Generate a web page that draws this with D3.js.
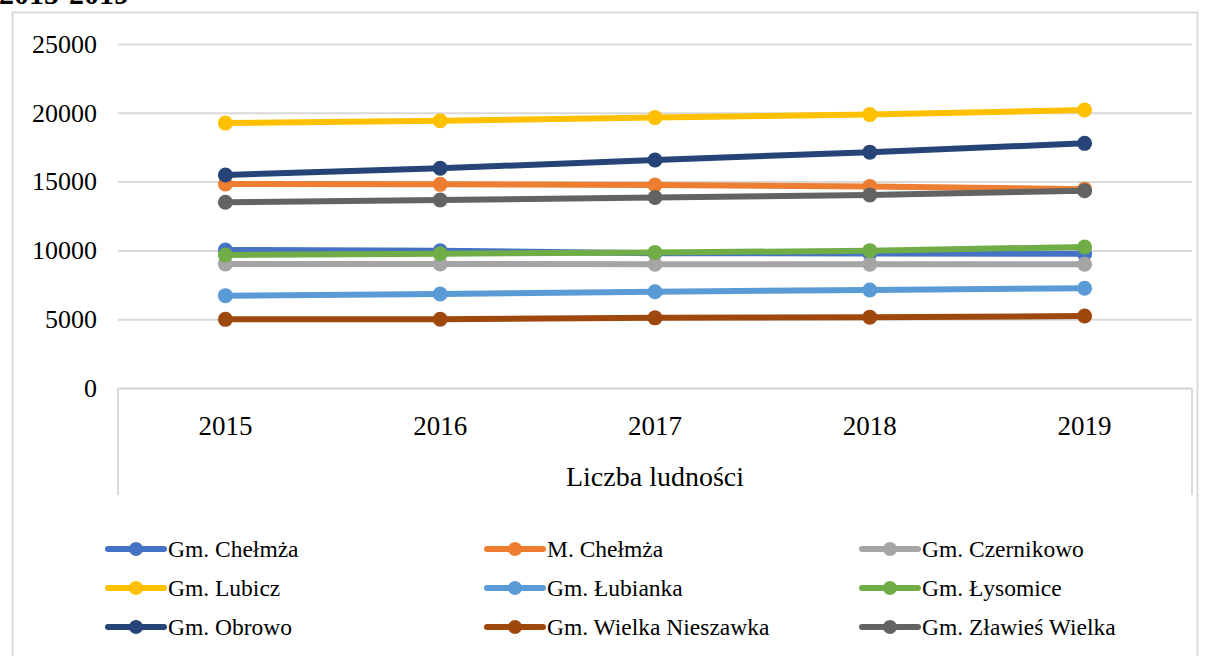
<!DOCTYPE html>
<html>
<head>
<meta charset="utf-8">
<script src="https://cdn.jsdelivr.net/npm/d3@7"></script>
<style>
  html, body { margin: 0; padding: 0; background: #fff; }
  svg { display: block; }
  text { font-family: "Liberation Serif", "Times New Roman", serif; fill: #000; }
</style>
</head>
<body>
<svg id="chart" width="1208" height="656"></svg>
<script>
const years = ["2015", "2016", "2017", "2018", "2019"];
const yTicks = [0, 5000, 10000, 15000, 20000, 25000];
const seriesNames = ["Gm. Chełmża", "M. Chełmża", "Gm. Czernikowo", "Gm. Lubicz", "Gm. Łubianka", "Gm. Łysomice", "Gm. Obrowo", "Gm. Wielka Nieszawka", "Gm. Zławieś Wielka"];
const seriesColors = ["#4472C4", "#ED7D31", "#A5A5A5", "#FFC000", "#5B9BD5", "#70AD47", "#264478", "#9E480E", "#636363"];
const gmChelmza = [10030, 9970, 9800, 9780, 9750];
const mChelmza = [14830, 14800, 14750, 14650, 14450];
const gmCzernikowo = [9020, 9010, 8990, 9000, 8990];
const gmLubicz = [19250, 19420, 19650, 19870, 20200];
const gmLubianka = [6710, 6830, 7000, 7120, 7250];
const gmLysomice = [9670, 9760, 9840, 9980, 10250];
const gmObrowo = [15480, 15970, 16570, 17140, 17780];
const gmWielkaNieszawka = [4990, 5000, 5100, 5150, 5230];
const gmZlawiesWielka = [13500, 13660, 13840, 14030, 14340];
const axisTitle = "Liczba ludności";
const topTitle = "2015-2019";

const seriesValues = [gmChelmza, mChelmza, gmCzernikowo, gmLubicz, gmLubianka, gmLysomice, gmObrowo, gmWielkaNieszawka, gmZlawiesWielka];
const series = seriesNames.map((n, i) => ({ name: n, color: seriesColors[i], values: seriesValues[i] }));

const svg = d3.select("#chart");
const plotLeft = 118, plotRight = 1192, plotTop = 44, plotBottom = 388;
const grid = "#d9d9d9";

// cut-off title at very top
svg.append("text").attr("x", -1).attr("y", 4)
  .attr("font-size", 30).attr("font-weight", "bold").text(topTitle);

// outer chart border
svg.append("rect").attr("x", 12.5).attr("y", 12.5).attr("width", 1185).attr("height", 700)
  .attr("fill", "none").attr("stroke", grid).attr("stroke-width", 2);

const x = d3.scaleBand().domain(years).range([plotLeft, plotRight]);
const y = d3.scaleLinear().domain([0, 25000]).range([plotBottom, plotTop]);
const cx = d => x(d) + x.bandwidth() / 2;

// y axis with gridlines
const yAxis = d3.axisLeft(y).tickValues(yTicks).tickFormat(d3.format("d"))
  .tickSizeInner(-(plotRight - plotLeft)).tickSizeOuter(0).tickPadding(21);
const gy = svg.append("g").attr("transform", `translate(${plotLeft},0)`).call(yAxis);
gy.select(".domain").remove();
gy.selectAll(".tick line").attr("stroke", grid).attr("stroke-width", 2);
gy.selectAll(".tick text").attr("font-size", 26).attr("font-family", "Liberation Serif").attr("fill", "#000");

// x axis box (multi-level category axis)
const xAxis = d3.axisBottom(x).tickSize(0).tickPadding(28);
const gx = svg.append("g").attr("transform", `translate(0,${plotBottom})`).call(xAxis);
gx.select(".domain").attr("stroke", grid).attr("stroke-width", 2);
gx.selectAll(".tick text").attr("font-size", 27).attr("font-family", "Liberation Serif").attr("fill", "#000");
[plotLeft, plotRight].forEach(xx => {
  svg.append("line").attr("x1", xx).attr("x2", xx).attr("y1", plotBottom).attr("y2", 495)
    .attr("stroke", grid).attr("stroke-width", 2);
});
svg.append("text").attr("x", (plotLeft + plotRight) / 2).attr("y", 486).attr("text-anchor", "middle")
  .attr("font-size", 28).text(axisTitle);

// series
const line = d3.line().x((d, i) => cx(years[i])).y(d => y(d));
series.forEach(s => {
  const g = svg.append("g");
  g.append("path").attr("d", line(s.values)).attr("fill", "none")
    .attr("stroke", s.color).attr("stroke-width", 6).attr("stroke-linejoin", "round").attr("stroke-linecap", "round");
  g.selectAll("circle").data(s.values).join("circle")
    .attr("cx", (d, i) => cx(years[i])).attr("cy", d => y(d)).attr("r", 7.5).attr("fill", s.color);
});

// legend
const colX = [108, 487, 862];
const rowY = [549, 588, 627];
series.forEach((s, i) => {
  const lx = colX[i % 3], ly = rowY[Math.floor(i / 3)];
  const g = svg.append("g").attr("transform", `translate(${lx},${ly})`);
  g.append("line").attr("x1", 0).attr("x2", 56).attr("y1", 0).attr("y2", 0)
    .attr("stroke", s.color).attr("stroke-width", 6).attr("stroke-linecap", "round");
  g.append("circle").attr("cx", 28).attr("cy", 0).attr("r", 7).attr("fill", s.color);
  g.append("text").attr("x", 60).attr("y", 8).attr("font-size", 23.5).text(s.name);
});
</script>
</body>
</html>
